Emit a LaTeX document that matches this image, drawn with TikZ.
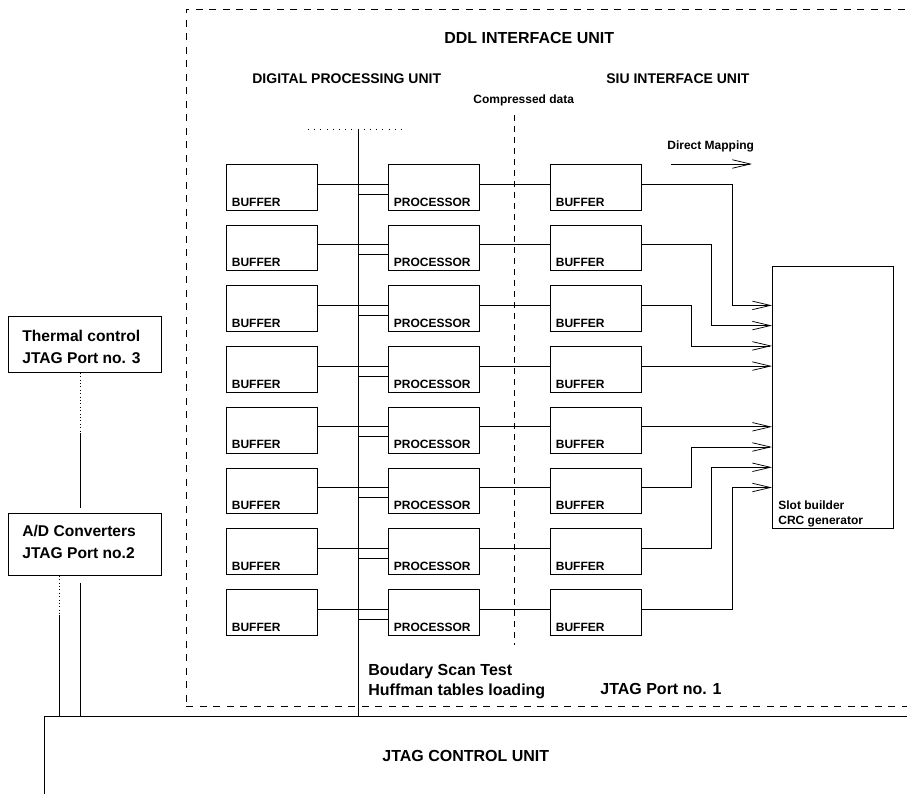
\documentclass[tikz,border=0pt]{standalone}
\usepackage{fontspec}
\setmainfont{Liberation Sans}
\usetikzlibrary{arrows.meta,calc}
\begin{document}
\begin{tikzpicture}[x=1pt,y=-1pt, line width=0.75pt,
  box/.style={draw, minimum width=91pt, minimum height=45.7pt, anchor=north west, inner sep=0pt},
  bigbox/.style={draw, anchor=north west, inner sep=0pt},
  lbl/.style={anchor=base west, inner sep=0pt, font=\fontsize{12}{14}\selectfont\bfseries},
  mid/.style={anchor=base west, inner sep=0pt, font=\fontsize{14}{17}\selectfont\bfseries},
  big/.style={anchor=base west, inner sep=0pt, font=\fontsize{16}{19.3}\selectfont\bfseries, align=left},
  side/.style={anchor=base west, inner sep=0pt, font=\fontsize{15.6}{21.6}\selectfont\bfseries, align=left},
  small/.style={anchor=base west, inner sep=0pt, font=\fontsize{12}{15}\selectfont\bfseries, align=left},
  arr/.style={-{Straight Barb[length=18pt,width=8.5pt]}},
  outerdash/.style={dash pattern=on 7pt off 6.5pt},
  cutdash/.style={dash pattern=on 6pt off 5pt},
  dotsH/.style={line width=0.6pt, dash pattern=on 0.8pt off 5.4pt},
  dotsV/.style={line width=0.6pt, dash pattern=on 0.8pt off 2.6pt}]
\useasboundingbox (0,0) rectangle (907,794);
\clip (0,0) rectangle (907,794);

% outer dashed DDL box and JTAG control unit
\node[bigbox, outerdash, minimum width=760pt, minimum height=697pt] (ddl) at (186,9) {};
\node[bigbox, minimum width=900pt, minimum height=120pt] (jtag) at (44,716) {};

% titles (multi-line nodes: base = last line)
\node[big] (tddl) at (444,43.7) {DDL INTERFACE UNIT};
\node[mid] (tdpu) at (252,84) {DIGITAL PROCESSING UNIT};
\node[mid] (tsiu) at (606,84) {SIU INTERFACE UNIT};
\node[lbl] (tcomp) at (473,104) {Compressed data};
\node[lbl] (tdm) at (667,149.3) {Direct Mapping};
\node[big] (tbst) at (368,695) {Boudary Scan Test\\Huffman tables loading};
\node[big] (tjp1) at (600,694.3) {JTAG Port no. 1};
\node[big] (tjcu) at (382,761.7) {JTAG CONTROL UNIT};

% direct mapping arrow
\coordinate (dm1) at (671,164);
\coordinate (dm2) at (752,164);
\draw[arr] (dm1) -- (dm2);

% compressed-data cut line
\coordinate (cd1) at (514,115);
\coordinate (cd2) at (514,645);
\draw[cutdash] (cd1) -- (cd2);

% bus
\coordinate (bustop) at (358,129);
\coordinate (dotL) at (308,129);
\coordinate (dotR) at (407,129);
\draw[dotsH] (dotL) -- (dotR);
\draw (bustop) -- (bustop |- jtag.north);

% rows
\foreach \i in {1,...,8} {
  \pgfmathsetmacro\t{164+(\i-1)*60.7}
  \node[box] (bL\i) at (226,\t) {};
  \node[box] (pr\i) at (388,\t) {};
  \node[box] (bR\i) at (550,\t) {};
  \node[lbl] (lbL\i) at ($(bL\i.south west)+(5.5,-4.3)$) {BUFFER};
  \node[lbl] (lpr\i) at ($(pr\i.south west)+(5.5,-4.3)$) {PROCESSOR};
  \node[lbl] (lbR\i) at ($(bR\i.south west)+(5.5,-4.3)$) {BUFFER};
  \draw ($(bL\i.north east)+(0,20)$) -- ($(pr\i.north west)+(0,20)$);
  \draw ($(pr\i.north west)+(0,30)$) coordinate (q\i) -- (q\i -| bustop);
  \draw ($(pr\i.north east)+(0,20)$) -- ($(bR\i.north west)+(0,20)$);
  \coordinate (o\i) at ($(bR\i.north east)+(0,20)$);
}

% slot builder
\node[bigbox, minimum width=121pt, minimum height=262pt] (slot) at (772,266) {};
\node[small] (tslot) at (778,524.3) {Slot builder\\CRC generator};

% SIU buffers to slot builder
\draw[arr] (o1) -- (o1 -| 732,0) -- (732,305.4) -- (slot.west |- 0,305.4);
\draw[arr] (o2) -- (o2 -| 711,0) -- (711,325.6) -- (slot.west |- 0,325.6);
\draw[arr] (o3) -- (o3 -| 691,0) -- (691,345.9) -- (slot.west |- 0,345.9);
\draw[arr] (o4) -- (o4 -| slot.west);
\draw[arr] (o5) -- (o5 -| slot.west);
\draw[arr] (o6) -- (o6 -| 691,0) -- (691,447.0) -- (slot.west |- 0,447.0);
\draw[arr] (o7) -- (o7 -| 711,0) -- (711,467.3) -- (slot.west |- 0,467.3);
\draw[arr] (o8) -- (o8 -| 732,0) -- (732,487.5) -- (slot.west |- 0,487.5);

% left side boxes
\node[bigbox, minimum width=153pt, minimum height=56pt] (therm) at (8,316) {};
\node[side] (ttherm) at (22,363.3) {Thermal control\\JTAG Port no. 3};
\node[bigbox, minimum width=153pt, minimum height=62pt] (adc) at (8,513) {};
\node[side] (tadc) at (22,558.3) {A/D Converters\\JTAG Port no.2};

\coordinate (v1) at (80,433);
\coordinate (v2) at (80,508);
\draw[dotsV] (therm.south -| v1) -- (v1);
\draw (v1) -- (v2);
\coordinate (w1) at (59,615);
\draw[dotsV] (adc.south -| w1) -- (w1);
\draw (w1) -- (w1 |- jtag.north);
\coordinate (w2) at (80,583);
\draw (w2) -- (w2 |- jtag.north);
\end{tikzpicture}
\end{document}
